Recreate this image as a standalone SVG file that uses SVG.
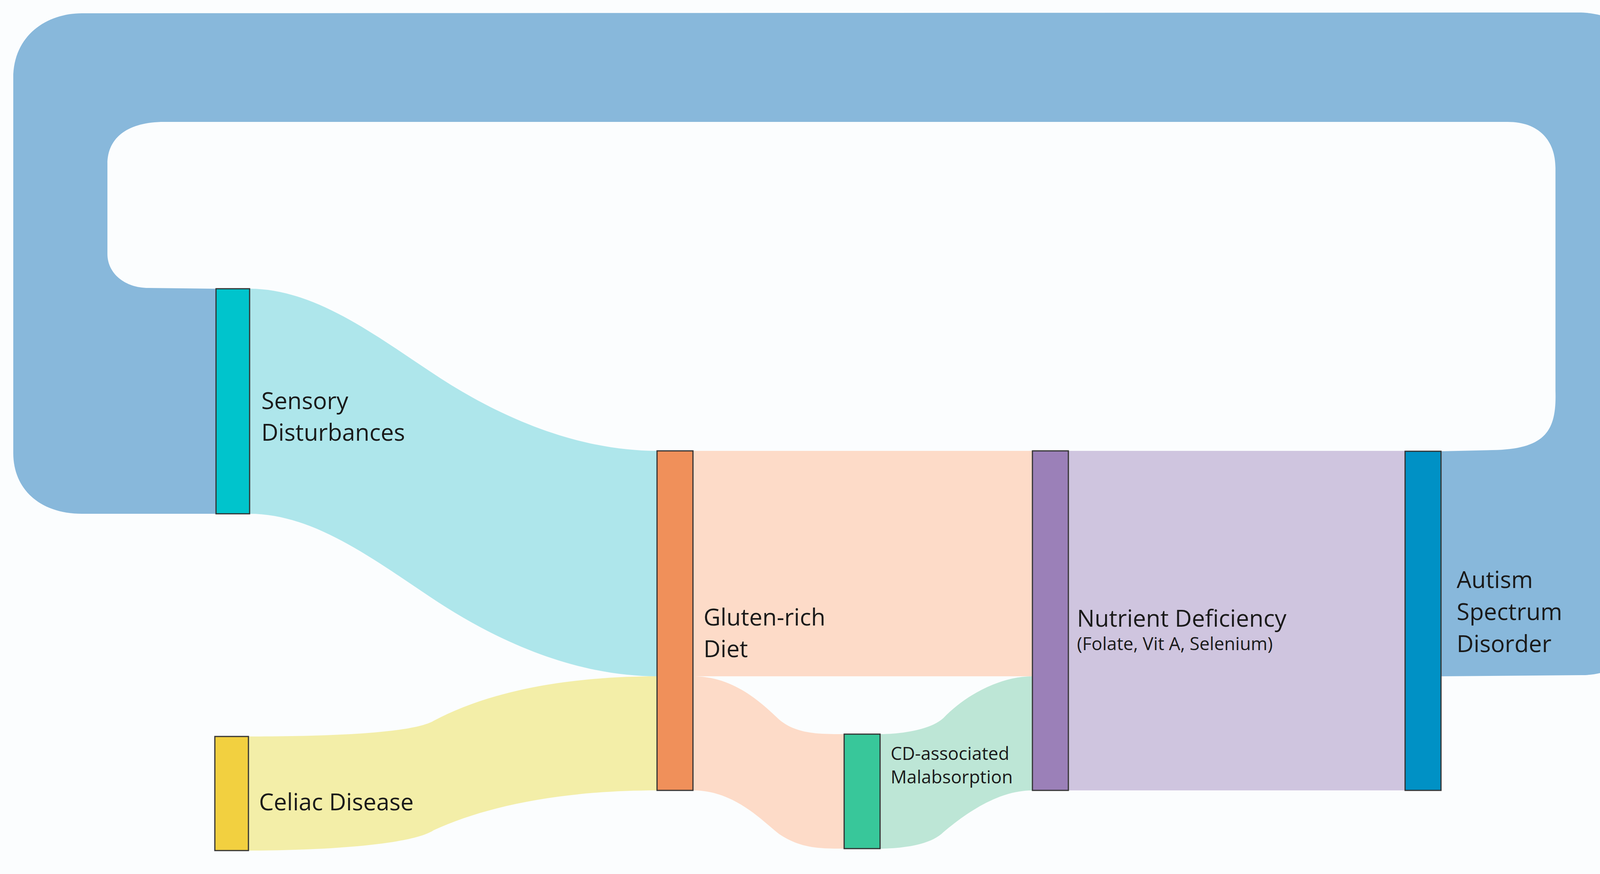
<svg xmlns="http://www.w3.org/2000/svg" width="4246" height="2237" viewBox="0 0 4246 2237">
<style>
.n{stroke:#333;stroke-width:3}
.t{font-family:"Open Sans","Liberation Sans",sans-serif;fill:#1a1a1a;font-size:60px}
.s{font-size:46px}
</style>
<rect width="4246" height="2237" fill="#fbfdfe"/>
<g id="links">
<path d="M3690,1155 L3820,1152 C3960,1150 3985,1100 3982,1000 L3982,430 C3982,360 3940,312 3860,312 L420,312 C330,312 275,350 275,420 L275,650 C275,700 320,737 380,737 L553,739 L553,1315 L210,1315 C100,1315 34,1250 34,1160 L34,200 C34,90 120,34 210,34 L4040,32 C4150,32 4217,100 4217,200 L4217,1560 C4217,1660 4150,1728 4050,1728 L3690,1731 Z" fill="#88b8db"/>
<path d="M639,739 C800,739 950,850 1100,950 C1300,1085 1500,1154 1682,1154 L1682,1731 C1500,1731 1300,1662 1100,1527 C950,1427 800,1315 639,1315 Z" fill="#aee6eb"/>
<path d="M636,1885 C800,1885 1050,1880 1110,1845 C1250,1770 1450,1731 1682,1731 L1682,2023 C1450,2023 1250,2060 1110,2125 C1050,2165 800,2177 636,2177 Z" fill="#f3eea8"/>
<path d="M1774,1154 L2643,1154 L2643,1731 L1774,1731 Z" fill="#fddbc8"/>
<path d="M1774,1731 C1880,1731 1950,1800 1995,1842 C2040,1880 2100,1879 2161,1879 L2161,2172 C2100,2172 2050,2172 1995,2135 C1950,2100 1880,2023 1774,2023 Z" fill="#fddbc8"/>
<path d="M2253,1879 C2300,1879 2380,1870 2415,1838 C2470,1780 2560,1731 2643,1731 L2643,2023 C2560,2023 2480,2075 2415,2130 C2380,2165 2300,2172 2253,2172 Z" fill="#bde6d6"/>
<path d="M2735,1154 L3596,1154 L3596,2023 L2735,2023 Z" fill="#cfc5df"/>
</g>
<g id="sensory"><rect class="n" x="553" y="739" width="86" height="576" fill="#00c4cc"/><text class="t" x="669" y="1047">Sensory</text><text class="t" x="669" y="1128">Disturbances</text></g>
<g id="gluten"><rect class="n" x="1682" y="1154" width="92" height="869" fill="#f0905a"/><text class="t" x="1801" y="1601">Gluten-rich</text><text class="t" x="1801" y="1682">Diet</text></g>
<g id="celiac"><rect class="n" x="550" y="1885" width="86" height="292" fill="#f2d040"/><text class="t" x="663" y="2074">Celiac Disease</text></g>
<g id="cd"><rect class="n" x="2161" y="1879" width="92" height="293" fill="#38c79a"/><text class="t s" x="2280" y="1945">CD-associated</text><text class="t s" x="2280" y="2005">Malabsorption</text></g>
<g id="nutrient"><rect class="n" x="2643" y="1154" width="92" height="869" fill="#9b80b8"/><text class="t" x="2757" y="1604">Nutrient Deficiency</text><text class="t s" x="2757" y="1664">(Folate, Vit A, Selenium)</text></g>
<g id="autism"><rect class="n" x="3597" y="1155" width="92" height="868" fill="#0091c5"/><text class="t" x="3729" y="1505">Autism</text><text class="t" x="3729" y="1587">Spectrum</text><text class="t" x="3729" y="1669">Disorder</text></g>
</svg>
